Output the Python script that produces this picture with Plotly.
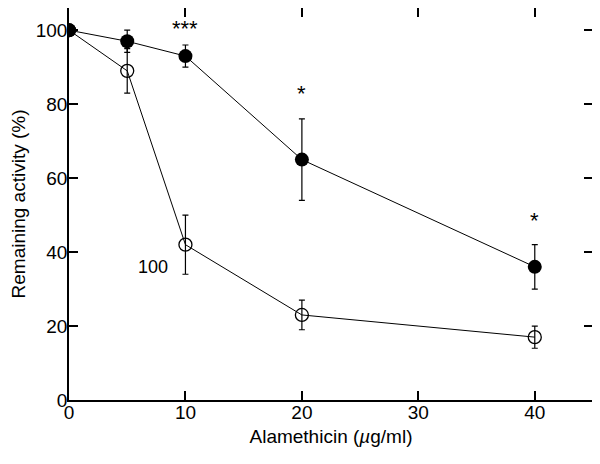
import plotly.graph_objects as go

conc = [0, 5, 10, 20, 40]
filled_y = [100, 97, 93, 65, 36]
filled_err = [0, 3, 3, 11, 6]
open_y = [100, 89, 42, 23, 17]
open_err = [0, 6, 8, 4, 3]

stars_x = [10, 20, 40]
stars_y = [100.5, 83, 48.5]
stars_txt = ["***", "*", "*"]

x_ticks = [0, 10, 20, 30, 40]
y_ticks = [0, 20, 40, 60, 80, 100]

FONT = "Liberation Sans, Arial, sans-serif"

fig = go.Figure()

fig.add_trace(go.Scatter(
    x=conc, y=open_y, mode="lines+markers",
    error_y=dict(type="data", array=open_err, color="black", thickness=1.2, width=3),
    line=dict(color="black", width=1),
    marker=dict(symbol="circle-open", size=13, color="black", line=dict(width=1.3)),
    showlegend=False
))
fig.add_trace(go.Scatter(
    x=conc, y=filled_y, mode="lines+markers",
    error_y=dict(type="data", array=filled_err, color="black", thickness=1.2, width=3),
    line=dict(color="black", width=1),
    marker=dict(symbol="circle", size=14, color="black"),
    showlegend=False
))

for x, y, t in zip(stars_x, stars_y, stars_txt):
    fig.add_annotation(x=x, y=y, text=t, showarrow=False,
                       font=dict(family=FONT, size=22, color="black"), yanchor="middle")

fig.add_annotation(x=7.2, y=36, text="100", showarrow=False,
                   font=dict(family=FONT, size=18, color="black"))

axis_style = dict(showline=True, linecolor="black", linewidth=1.5, mirror="ticks",
                  ticks="inside", ticklen=9, tickwidth=1.5, tickcolor="black",
                  showgrid=False, zeroline=False, automargin=False,
                  tickfont=dict(family=FONT, size=19, color="black"))

fig.update_xaxes(range=[0, 45], tickvals=x_ticks, ticklabelstandoff=-6,
                 title=dict(text="Alamethicin (<i>µ</i>g/ml)",
                            font=dict(family=FONT, size=19, color="black"),
                            standoff=8),
                 **axis_style)
fig.update_yaxes(range=[0, 106], tickvals=y_ticks, ticklabelstandoff=-4,
                 title=dict(text="Remaining activity (%)",
                            font=dict(family=FONT, size=19, color="black"),
                            standoff=6),
                 **axis_style)

# page body adds an 8px offset, so margins are shifted to compensate
fig.update_layout(width=600, height=464, plot_bgcolor="white", paper_bgcolor="white",
                  margin=dict(l=61, r=15, t=0, b=72),
                  font=dict(family=FONT, color="black"))

fig.write_html("out.html")
